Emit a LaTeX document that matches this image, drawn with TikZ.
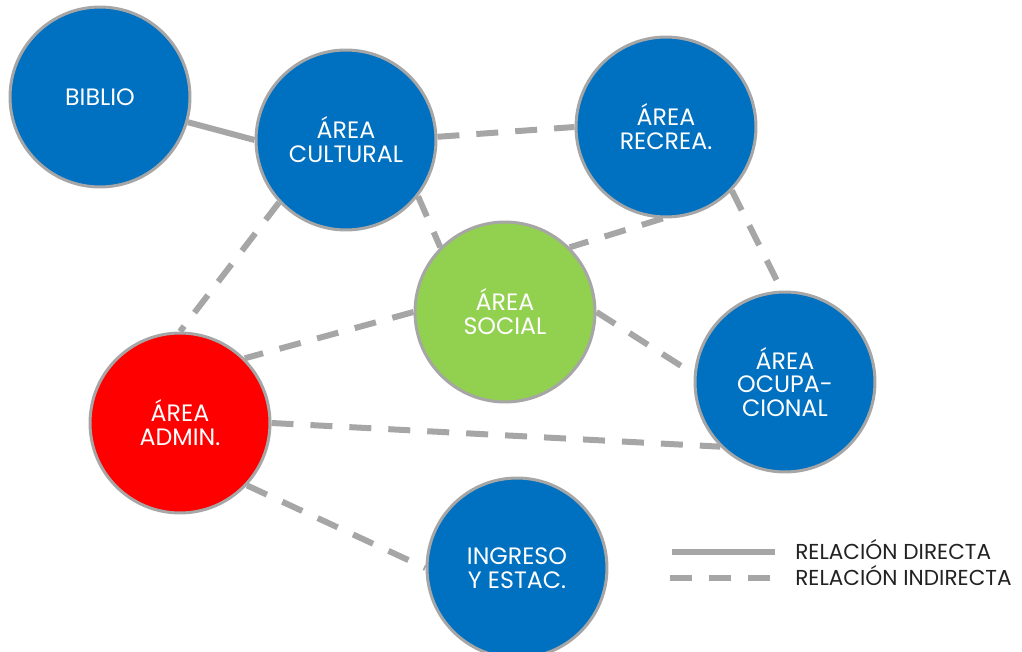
\documentclass[tikz,border=0pt]{standalone}
\usepackage{fontspec}
\setmainfont{Poppins}
\usepackage{tikz}
\usetikzlibrary{backgrounds}
\definecolor{areablue}{HTML}{0070C0}
\definecolor{areagreen}{HTML}{92D050}
\definecolor{areared}{HTML}{FF0000}
\definecolor{linkgray}{HTML}{A6A6A6}
\definecolor{legendtext}{HTML}{222222}

\begin{document}
\begin{tikzpicture}[
  x=0.02cm, y=-0.02cm,
  font=\fontsize{13.5}{13.6}\selectfont,
  area/.style={circle, draw=linkgray, line width=0.06cm, fill=areablue,
               minimum size=3.6cm, inner sep=0pt, align=center, text=white},
  social/.style={area, fill=areagreen},
  admin/.style={area, fill=areared},
  direct/.style={draw=linkgray, line width=0.12cm},
  indirect/.style={direct, dash pattern=on 0.44cm off 0.34cm},
  legend/.style={anchor=base west, inner sep=0pt, text=legendtext,
                 font=\fontsize{12.3}{13}\selectfont}
]
\useasboundingbox (0,0) rectangle (1022,652);
\node[area] (biblio) at (100,97) {BIBLIO};
\node[area] (cultural) at (346,140) {ÁREA\\CULTURAL};
\node[area] (recrea) at (666,127) {ÁREA\\RECREA.};
\node[social] (social) at (505,312) {ÁREA\\SOCIAL};
\node[area] (ocup) at (785,382) {ÁREA\\OCUPA-\\CIONAL};
\node[admin] (admin) at (180,423) {ÁREA\\ADMIN.};
\node[area] (ingreso) at (517,568) {INGRESO\\Y ESTAC.};
\begin{scope}[on background layer]
\draw[direct] (biblio.-16) -- (cultural.180);
\draw[indirect] (cultural.2) -- (recrea.180);
\draw[indirect] (cultural.-38) -- (social.135);
\draw[indirect] (cultural.223) -- (admin.90);
\draw[indirect] (recrea.-92) -- (social.45);
\draw[indirect] (recrea.-44) -- (ocup.92);
\draw[indirect] (social.0) -- (ocup.175);
\draw[indirect] (social.180) -- (admin.45);
\draw[indirect] (admin.0) -- (ocup.225);
\draw[indirect] (admin.-43) -- (ingreso.180);
\end{scope}
\coordinate (dirA) at (672,552);
\coordinate (dirB) at (775,552);
\coordinate (indA) at (670,578);
\coordinate (indB) at (775,578);
\draw[direct] (dirA) -- (dirB);
\draw[indirect] (indA) -- (indB);
\node[legend] (ldir) at (795,559) {RELACIÓN DIRECTA};
\node[legend] (lind) at (795,585) {RELACIÓN INDIRECTA};
\end{tikzpicture}
\end{document}
